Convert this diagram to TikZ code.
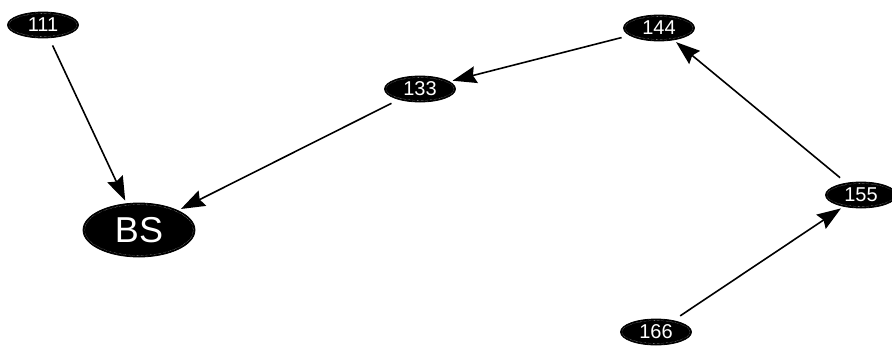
\documentclass[tikz,border=0pt]{standalone}
\usepackage{fontspec}
\setmainfont{Liberation Sans}
\usetikzlibrary{shapes.geometric,arrows.meta,calc}
\begin{document}
\begin{tikzpicture}[x=1pt,y=-1pt,
  sensor/.style={ellipse,fill=black,draw=black,line width=0.8pt,text=white,inner sep=0pt,
    minimum width=71pt,minimum height=26pt,font=\fontsize{20}{20}\selectfont,
    path picture={\draw[white,densely dotted,line width=0.3pt] let \p1=(path picture bounding box.north east),\p2=(path picture bounding box.center) in (\p2) ellipse ({\x1-\x2-1.6pt} and {\y1-\y2-1.6pt});}},
  sink/.style={sensor,minimum width=112pt,minimum height=54pt,font=\fontsize{36}{36}\selectfont},
  link/.style={-{Stealth[length=24pt,width=17pt,inset=3pt]},line width=1.6pt,shorten <=8pt,shorten >=3pt}]
\useasboundingbox (0,0) rectangle (892,349);
\node[sensor] (111) at (43,25) {111};
\node[sink] (bs) at (139,230) {BS};
\node[sensor] (133) at (420,89) {133};
\node[sensor] (144) at (659,28) {144};
\node[sensor] (155) at (861,195) {155};
\node[sensor] (166) at (656,332) {166};
\draw[link] (111) -- (bs);
\draw[link] (133) -- (bs);
\draw[link] (144) -- (133);
\draw[link] (155) -- (144);
\draw[link] (166) -- (155);
\end{tikzpicture}
\end{document}
